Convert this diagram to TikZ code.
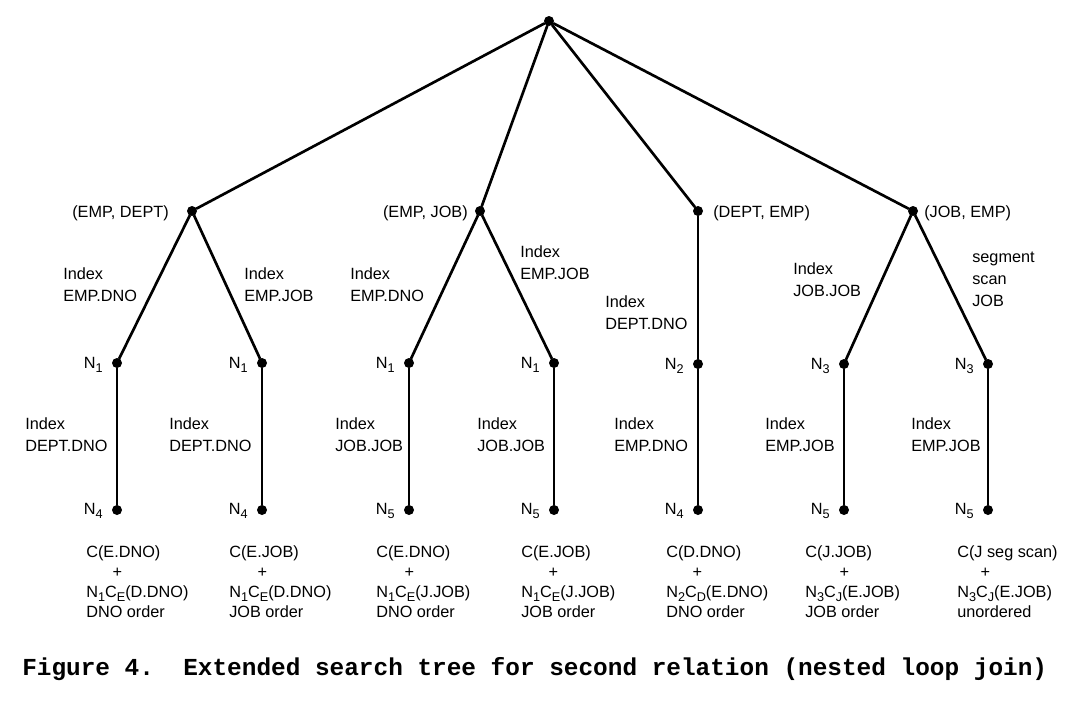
\documentclass[tikz,border=0pt]{standalone}
\usepackage{fontspec}
\setmainfont{Liberation Sans}
\newfontfamily\capfont{Liberation Mono}
\usetikzlibrary{arrows}
\newcommand{\lsub}[1]{\raisebox{-0.55ex}{\fontsize{9.5}{9.5}\selectfont #1}}
\begin{document}
\begin{tikzpicture}[line cap=round,line join=round,x=0.75pt,y=-0.75pt,
  pt/.style={circle,fill=black,inner sep=0pt,minimum size=7.5pt},
  lab/.style={inner sep=0pt,anchor=west,align=left,font=\fontsize{12.2}{16.5}\selectfont},
  nlab/.style={inner sep=0pt,anchor=base east,font=\fontsize{12.2}{15}\selectfont},
  cost/.style={inner sep=0pt,anchor=north west,align=left,font=\fontsize{12.2}{15}\selectfont}]
\useasboundingbox (0,0) rectangle (1078,711);
% points of the tree
\node [pt] (top) at (549,21) {};
\node [pt] (ed) at (192,211) {};
\node [pt] (ej) at (480,211) {};
\node [pt] (de) at (698,211) {};
\node [pt] (je) at (913,211) {};
\node [pt] (ed1) at (117,363) {};
\node [pt] (ed2) at (262,363) {};
\node [pt] (ej1) at (409,363) {};
\node [pt] (ej2) at (554,363) {};
\node [pt] (de1) at (698,364) {};
\node [pt] (je1) at (844,364) {};
\node [pt] (je2) at (988,364) {};
\node [pt] (ed1b) at (117,510) {};
\node [pt] (ed2b) at (262,510) {};
\node [pt] (ej1b) at (409,510) {};
\node [pt] (ej2b) at (554,510) {};
\node [pt] (de1b) at (698,510) {};
\node [pt] (je1b) at (844,510) {};
\node [pt] (je2b) at (988,510) {};
% branches
\draw [line width=2pt] (top)-- (ed);
\draw [line width=2pt] (top)-- (ej);
\draw [line width=2pt] (top)-- (de);
\draw [line width=2pt] (top)-- (je);
\draw [line width=2pt] (ed)-- (ed1);
\draw [line width=2pt] (ed)-- (ed2);
\draw [line width=2pt] (ej)-- (ej1);
\draw [line width=2pt] (ej)-- (ej2);
\draw [line width=2pt] (de)-- (de1);
\draw [line width=2pt] (je)-- (je1);
\draw [line width=2pt] (je)-- (je2);
\draw [line width=2pt] (ed1)-- (ed1b);
\draw [line width=2pt] (ed2)-- (ed2b);
\draw [line width=2pt] (ej1)-- (ej1b);
\draw [line width=2pt] (ej2)-- (ej2b);
\draw [line width=2pt] (de1)-- (de1b);
\draw [line width=2pt] (je1)-- (je1b);
\draw [line width=2pt] (je2)-- (je2b);
% relation pairs
\node [nlab] (edl) at (169,217) {(EMP, DEPT)};
\node [nlab] (ejl) at (468,217) {(EMP, JOB)};
\node [nlab,anchor=base west] (del) at (713,217) {(DEPT, EMP)};
\node [nlab,anchor=base west] (jel) at (924,217) {(JOB, EMP)};
% access paths
\node [lab] (p1) at (63,285) {Index\\EMP.DNO};
\node [lab] (p2) at (244,285) {Index\\EMP.JOB};
\node [lab] (p3) at (350,285) {Index\\EMP.DNO};
\node [lab] (p4) at (520,263) {Index\\EMP.JOB};
\node [lab] (p5) at (605,313) {Index\\DEPT.DNO};
\node [lab] (p6) at (793,280) {Index\\JOB.JOB};
\node [lab] (p7) at (972,279) {segment\\scan\\JOB};
\node [lab] (q1) at (25,435) {Index\\DEPT.DNO};
\node [lab] (q2) at (169,435) {Index\\DEPT.DNO};
\node [lab] (q3) at (335,435) {Index\\JOB.JOB};
\node [lab] (q4) at (477,435) {Index\\JOB.JOB};
\node [lab] (q5) at (614,435) {Index\\EMP.DNO};
\node [lab] (q6) at (765,435) {Index\\EMP.JOB};
\node [lab] (q7) at (911,435) {Index\\EMP.JOB};
% cardinalities
\node [nlab] (ned1) at (103,368) {N\lsub{1}};
\node [nlab] (ned2) at (248,368) {N\lsub{1}};
\node [nlab] (nej1) at (395,368) {N\lsub{1}};
\node [nlab] (nej2) at (540,368) {N\lsub{1}};
\node [nlab] (nde1) at (684,369) {N\lsub{2}};
\node [nlab] (nje1) at (830,369) {N\lsub{3}};
\node [nlab] (nje2) at (974,369) {N\lsub{3}};
\node [nlab] (med1) at (103,514) {N\lsub{4}};
\node [nlab] (med2) at (248,514) {N\lsub{4}};
\node [nlab] (mej1) at (395,514) {N\lsub{5}};
\node [nlab] (mej2) at (540,514) {N\lsub{5}};
\node [nlab] (mde1) at (684,514) {N\lsub{4}};
\node [nlab] (mje1) at (830,514) {N\lsub{5}};
\node [nlab] (mje2) at (974,514) {N\lsub{5}};
% costs
\node [cost] (c1) at (86,545) {C(E.DNO)\\\hspace*{19.7pt}+\\N\lsub{1}C\lsub{E}(D.DNO)\\DNO order};
\node [cost] (c2) at (229,545) {C(E.JOB)\\\hspace*{21.2pt}+\\N\lsub{1}C\lsub{E}(D.DNO)\\JOB order};
\node [cost] (c3) at (376,545) {C(E.DNO)\\\hspace*{21.2pt}+\\N\lsub{1}C\lsub{E}(J.JOB)\\DNO order};
\node [cost] (c4) at (521,545) {C(E.JOB)\\\hspace*{20.5pt}+\\N\lsub{1}C\lsub{E}(J.JOB)\\JOB order};
\node [cost] (c5) at (666,545) {C(D.DNO)\\\hspace*{19.7pt}+\\N\lsub{2}C\lsub{D}(E.DNO)\\DNO order};
\node [cost] (c6) at (805,545) {C(J.JOB)\\\hspace*{25.7pt}+\\N\lsub{3}C\lsub{J}(E.JOB)\\JOB order};
\node [cost] (c7) at (957,545) {C(J seg scan)\\\hspace*{17.5pt}+\\N\lsub{3}C\lsub{J}(E.JOB)\\unordered};
% caption
\node [inner sep=0pt,anchor=base west,font=\capfont\bfseries\fontsize{18.3}{20}\selectfont] (cap) at (22,675) {Figure 4.\ \ Extended search tree for second relation (nested loop join)};
\end{tikzpicture}
\end{document}
